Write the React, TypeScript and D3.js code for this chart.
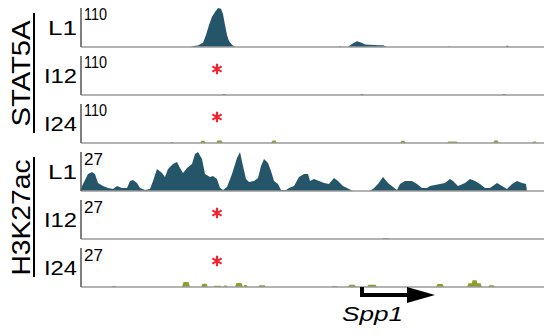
import React from "react";
import * as d3 from "d3";

const width = 544;
const height = 335;

const teal = "#245569";
const olive = "#8e9c2d";

// window in kb (0 = left edge of browser view)
const region = [0, 46.3];

// STAT5A L1 signal: [kb, value]
const stat5aL1 = [
  [0, 0], [11.0, 0], [11.2, 3], [11.7, 4], [12.2, 12], [12.5, 34], [12.8, 62],
  [13.1, 85], [13.4, 99], [13.7, 110], [14.0, 108], [14.2, 93], [14.4, 62],
  [14.6, 34], [14.8, 17], [15.1, 6], [15.4, 0], [25.8, 0], [25.9, 2], [26.1, 0],
  [26.7, 0], [26.9, 5], [27.3, 12], [27.6, 16], [28.0, 13], [28.4, 7], [28.9, 6],
  [29.7, 5], [30.2, 5], [30.6, 0], [36.7, 0], [36.8, 2], [36.9, 0], [42.5, 0],
  [42.6, 5], [42.8, 0], [46.3, 0],
];

// sparse tracks: [start kb, end kb, value]
const stat5aI12 = [
  [14.1, 14.5, 3], [27.9, 28.3, 3], [42.1, 42.5, 3],
];
const stat5aI24 = [
  [8.9, 9.3, 3], [11.9, 12.5, 6], [13.5, 14.2, 7], [19.0, 19.6, 7],
  [31.9, 32.5, 6], [36.6, 37.7, 4], [41.2, 41.8, 7], [45.1, 45.6, 4],
];

// H3K27ac L1 signal: [kb, value]
const h3k27acL1 = [
  [0, 1.5], [0.2, 4.8], [0.7, 11.8], [1.1, 13.1], [1.4, 11.8], [1.7, 5.5],
  [2.2, 3.5], [2.7, 2.1], [3.2, 1.4], [3.6, 3.5], [4.1, 2.1], [4.6, 2.1],
  [4.9, 6.9], [5.2, 7.6], [5.6, 5.5], [5.9, 2.1], [6.4, 0.7], [6.9, 1.4],
  [7.2, 6.9], [7.6, 15.2], [8.1, 12.5], [8.4, 9.7], [8.7, 15.2], [9.2, 18.7],
  [9.6, 20.1], [9.9, 15.9], [10.2, 12.5], [10.6, 15.9], [11.1, 18.7],
  [11.4, 25.6], [11.7, 27], [12.1, 22.2], [12.4, 11.8], [12.9, 9.7],
  [13.2, 10.4], [13.6, 8.3], [13.9, 2.1], [14.2, 0.7], [14.6, 2.8],
  [15.1, 11.8], [15.6, 22.8], [15.9, 27], [16.2, 17.3], [16.5, 8.3],
  [16.8, 6.2], [17.3, 6.9], [17.7, 9], [18.0, 17.3], [18.3, 22.2], [18.7, 19.4],
  [19.0, 13.8], [19.3, 6.9], [19.7, 4.8], [20.0, 0.7], [20.5, 0.7], [20.8, 2.1],
  [21.3, 3.5], [21.8, 9.7], [22.3, 11.8], [22.7, 11.8], [22.9, 6.9],
  [23.3, 8.3], [23.8, 6.9], [24.3, 5.5], [24.8, 4.8], [25.3, 9], [25.7, 6.9],
  [26.2, 3.5], [26.8, 1.4], [27.2, 0], [28.8, 0], [29.2, 1.4], [29.7, 4.8],
  [30.2, 9.7], [30.7, 5.5], [31.2, 2.8], [31.6, 0.7], [31.9, 4.8], [32.4, 6.9],
  [33.1, 6.9], [33.6, 4.8], [34.1, 2.1], [34.6, 2.1], [34.9, 3.5], [35.4, 4.2],
  [35.9, 4.8], [36.4, 5.5], [36.9, 8.3], [37.2, 6.9], [37.7, 3.5], [38.4, 5.5],
  [38.9, 8.3], [39.4, 6.9], [39.9, 4.8], [40.4, 2.1], [40.9, 2.1], [41.6, 5.5],
  [42.1, 3.5], [42.6, 1.4], [43.1, 4.8], [43.6, 6.9], [44.1, 5.5], [44.5, 4.8],
  [44.6, 0], [46.3, 0],
];

const h3k27acI12 = [[30.1, 30.9, 0.7]];
const h3k27acI24 = [
  [3.0, 3.6, 0.7], [10.1, 10.9, 3.5], [12.0, 12.7, 2.3], [13.2, 14.1, 0.8],
  [14.2, 14.7, 1], [15.4, 16.2, 2.8], [16.2, 16.7, 1.4], [17.7, 18.5, 1.2],
  [25.0, 25.7, 0.7], [26.7, 27.5, 1.6], [28.6, 29.6, 1.6], [35.5, 36.3, 2.1],
  [38.6, 40.1, 2.6], [39.0, 39.7, 4.6], [40.7, 41.4, 1.2],
];

const marks = ["STAT5A", "H3K27ac"];
const markMax = [110, 27];
const samples = ["L1", "I12", "I24"];

// which sample lost the peak (marked with red star at the STAT5A site)
const starRows = ["I12", "I24"];
const starPos = 13.6;

const genes = [{ name: "Spp1", tss: 28.1, end: 35.4 }];

const tracks = [
  { mark: 0, sample: 0, profile: stat5aL1, color: teal },
  { mark: 0, sample: 1, bins: stat5aI12, color: "#2f6b52" },
  { mark: 0, sample: 2, bins: stat5aI24, color: olive },
  { mark: 1, sample: 0, profile: h3k27acL1, color: teal },
  { mark: 1, sample: 1, bins: h3k27acI12, color: "#62a27c" },
  { mark: 1, sample: 2, bins: h3k27acI24, color: olive },
];

const font = "Liberation Sans, Arial, sans-serif";

const trackTop = 8;
const trackStep = 48;
const trackH = 39;

const labelLen = { L1: 29, I12: 33, I24: 33 };

export default function App() {
  const x = d3.scaleLinear().domain(region).range([81, width]);
  const star = d3.symbol(d3.symbolAsterisk, 80)();

  return (
    <svg
      width={width}
      height={height}
      style={{ position: "absolute", left: 0, top: 0, background: "#fff" }}
      fontFamily={font}
    >
      {tracks.map((t, i) => {
        const top = trackTop + i * trackStep;
        const base = top + trackH;
        const max = markMax[t.mark];
        const y = d3.scaleLinear().domain([0, max]).range([base, top]);
        const area = d3
          .area()
          .x((d) => x(d[0]))
          .y0(base)
          .y1((d) => y(Math.min(d[1], max)));

        const binPaths = (t.bins || []).map((b) => {
          const dlt = Math.min(0.15, (b[1] - b[0]) / 3);
          return area([
            [b[0], 0],
            [b[0] + dlt, b[2]],
            [b[1] - dlt, b[2]],
            [b[1], 0],
          ]);
        });

        const sample = samples[t.sample];
        return (
          <g key={i}>
            {t.profile && <path d={area(t.profile)} fill={t.color} />}
            {binPaths.map((p, j) => (
              <path key={j} d={p} fill={t.color} />
            ))}
            <line x1={81} x2={width} y1={base} y2={base} stroke="#9a9a9a" strokeWidth={1.5} />
            <line x1={81} x2={81} y1={top} y2={base} stroke="#555" strokeWidth={1.5} />
            <text
              x={84}
              y={top + (t.mark === 0 ? 12 : 13)}
              fontSize={t.mark === 0 ? 16 : 17}
              textLength={t.mark === 0 ? 23 : undefined}
              lengthAdjust="spacingAndGlyphs"
            >
              {max}
            </text>
            <text
              x={77}
              y={base - 12}
              fontSize={20}
              textAnchor="end"
              textLength={labelLen[sample]}
              lengthAdjust="spacingAndGlyphs"
            >
              {sample}
            </text>
            {starRows.includes(sample) && (
              <path
                d={star}
                transform={`translate(${x(starPos)},${base - 26})`}
                stroke="#f0262e"
                strokeWidth={2.2}
                fill="none"
              />
            )}
          </g>
        );
      })}

      {marks.map((m, k) => {
        const top = trackTop + k * 3 * trackStep;
        const bottom = top + 2 * trackStep + trackH;
        const mid = (top + bottom) / 2;
        return (
          <g key={m}>
            <line x1={34} x2={34} y1={top + 5} y2={bottom - 10} stroke="#000" strokeWidth={2} />
            <text
              transform={`translate(30,${mid - 2}) rotate(-90)`}
              textAnchor="middle"
              fontSize={26}
              textLength={m === "STAT5A" ? 106 : 116}
              lengthAdjust="spacingAndGlyphs"
            >
              {m}
            </text>
          </g>
        );
      })}

      {genes.map((g) => {
        const base = trackTop + 5 * trackStep + trackH;
        const x0 = x(g.tss);
        const x1 = x(g.end);
        const yLine = base + 8;
        return (
          <g key={g.name}>
            <path
              d={`M${x0},${base} V${yLine} H${x1 - 26}`}
              stroke="#000"
              strokeWidth={4}
              fill="none"
            />
            <path
              d={`M${x1 - 28},${yLine - 8} L${x1},${yLine} L${x1 - 28},${yLine + 8} Z`}
              fill="#000"
            />
            <text
              x={x0 - 20}
              y={base + 34}
              fontSize={20}
              fontStyle="italic"
              textLength={61}
              lengthAdjust="spacingAndGlyphs"
            >
              {g.name}
            </text>
          </g>
        );
      })}
    </svg>
  );
}
